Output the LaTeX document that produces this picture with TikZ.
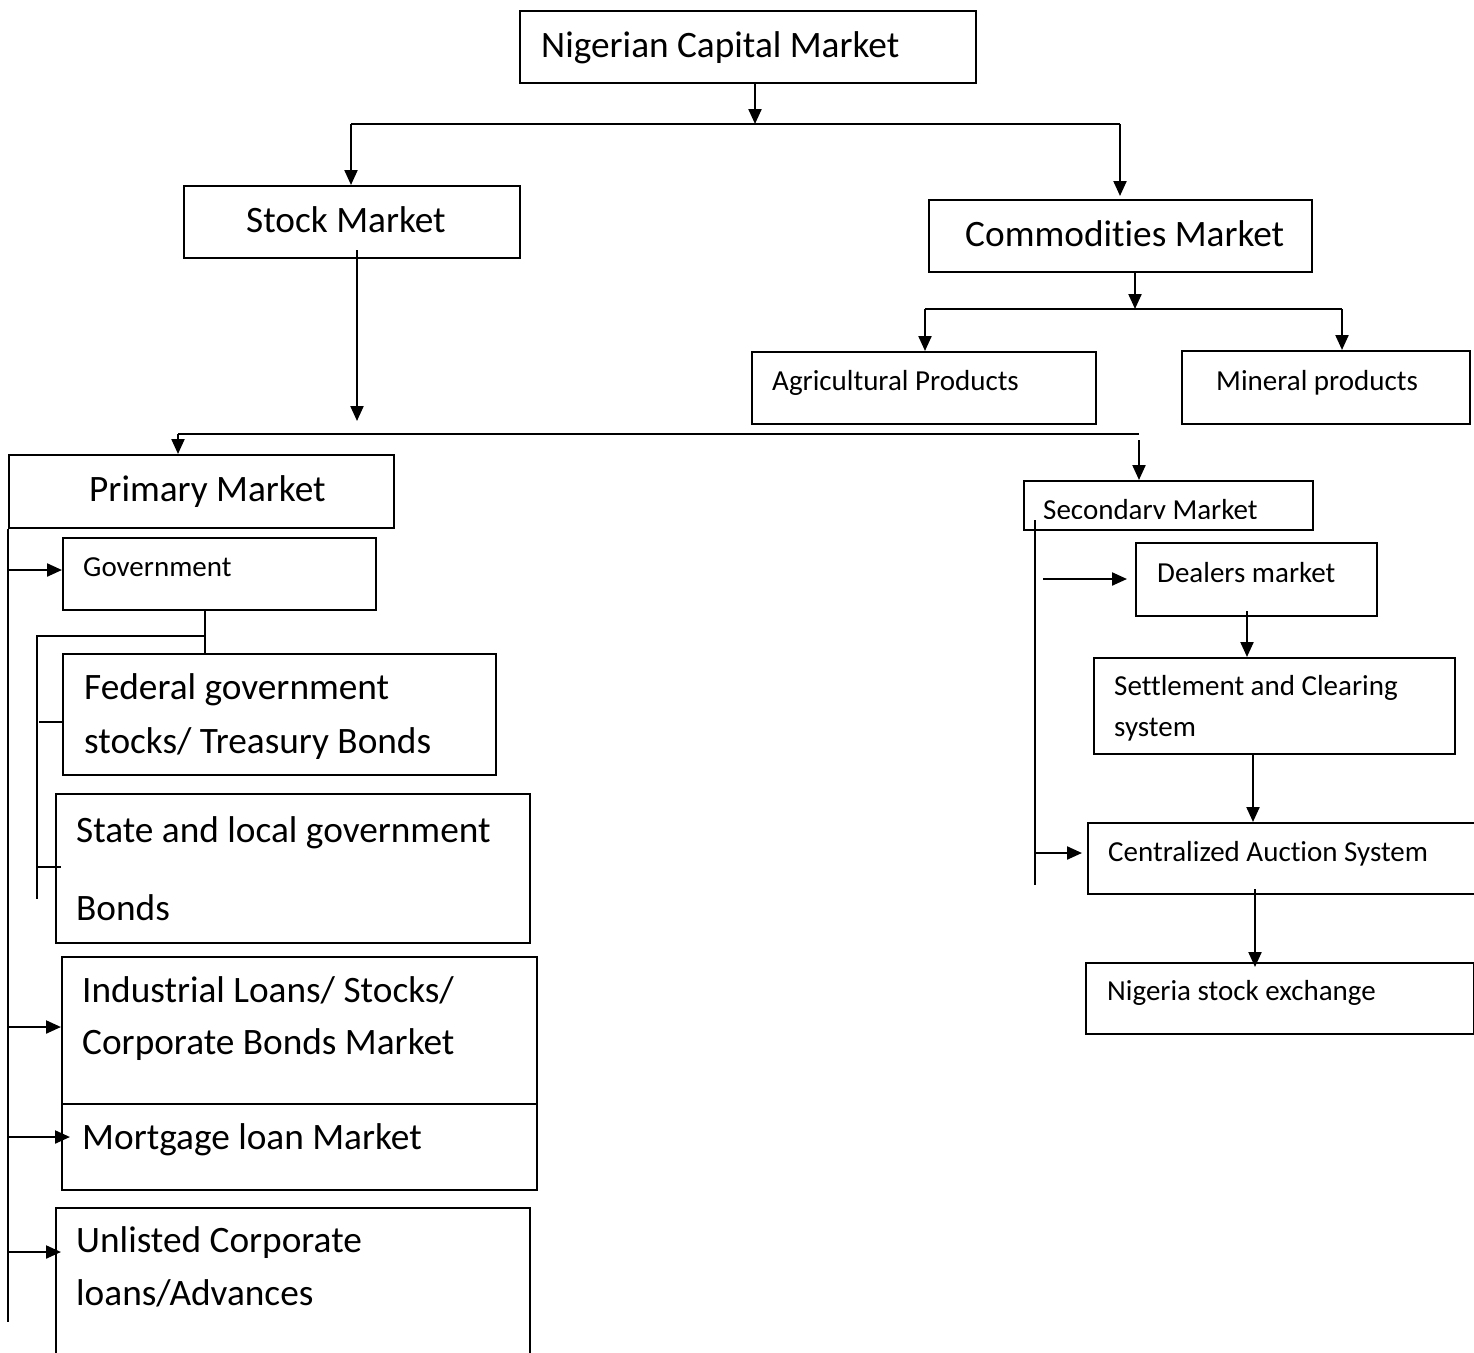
\documentclass[tikz,border=0pt]{standalone}
\usepackage{fontspec}
\setmainfont{Carlito}[Ligatures=NoCommon]
\usetikzlibrary{arrows.meta}
\newcommand\bigf{\fontsize{37.3}{45}\selectfont}
\newcommand\smallf{\fontsize{29}{35}\selectfont}
\newcommand\twolines[3]{\vtop{\baselineskip=#3\lineskiplimit=-100pt\hbox{#1}\hbox{#2}}}
\begin{document}
\begin{tikzpicture}[x=1pt,y=-1pt,
  box/.style={draw, line width=2pt, inner sep=0pt, anchor=north west},
  lbl/.style={anchor=base west, inner sep=0pt},
  conn/.style={line width=2.2pt},
  arr/.style={line width=2.2pt, -{Triangle[length=15pt,width=13pt]}}]
\useasboundingbox (0,0) rectangle (1474,1352);
\fill[white] (0,0) rectangle (1474,1352);
\clip (0,0) rectangle (1474,1352);
% boxes
\node[box, minimum width=456pt, minimum height=72pt] (ncm) at (519,10) {};
\node[box, minimum width=336pt, minimum height=72pt] (stock) at (183,185) {};
\node[box, minimum width=383pt, minimum height=72pt] (comm) at (928,199) {};
\node[box, minimum width=344pt, minimum height=72pt] (agri) at (751,351) {};
\node[box, minimum width=288pt, minimum height=73pt] (mineral) at (1181,350) {};
\node[box, minimum width=385pt, minimum height=73pt] (primary) at (8,454) {};
\node[box, minimum width=313pt, minimum height=72pt] (gov) at (62,537) {};
\node[box, minimum width=433pt, minimum height=121pt] (fed) at (62,653) {};
\node[box, minimum width=474pt, minimum height=149pt] (state) at (55,793) {};
\node[box, minimum width=475pt, minimum height=147pt] (ind) at (61,956) {};
\node[box, minimum width=475pt, minimum height=86pt] (mort) at (61,1103) {};
\node[box, minimum width=474pt, minimum height=170pt] (unl) at (55,1207) {};
\node[box, minimum width=289pt, minimum height=49pt] (sec) at (1023,480) {};
\node[box, minimum width=241pt, minimum height=73pt] (deal) at (1135,542) {};
\node[box, minimum width=361pt, minimum height=96pt] (settle) at (1093,657) {};
\node[box, minimum width=393pt, minimum height=71pt] (central) at (1087,822) {};
\node[box, minimum width=388pt, minimum height=71pt] (nse) at (1085,962) {};
% texts
\node[lbl, font=\bigf] (ncmt) at (541,57) {Nigerian Capital Market};
\node[lbl, font=\bigf] (stockt) at (246,232) {Stock Market};
\node[lbl, font=\bigf] (commt) at (965,246) {Commodities Market};
\node[lbl, font=\smallf] (agrit) at (772,390) {Agricultural Products};
\node[lbl, font=\smallf] (mineralt) at (1216,390) {Mineral products};
\node[lbl, font=\bigf] (primaryt) at (89,501) {Primary Market};
\node[lbl, font=\smallf] (govt) at (83,576) {Government};
\node[lbl, font=\bigf] (fedt) at (84,699) {\twolines{Federal government}{stocks/ Treasury Bonds}{54pt}};
\node[lbl, font=\bigf] (statet) at (76,842) {\twolines{State and local government}{Bonds}{78pt}};
\node[lbl, font=\bigf] (indt) at (82,1002) {\twolines{Industrial Loans/ Stocks/}{Corporate Bonds Market}{52pt}};
\node[lbl, font=\bigf] (mortt) at (82,1149) {Mortgage loan Market};
\node[lbl, font=\bigf] (unlt) at (76,1252) {\twolines{Unlisted Corporate}{loans/Advances}{53pt}};
\begin{scope}
\clip (1023,480) rectangle (1312,518.5);
\node[lbl, font=\smallf] (sect) at (1043,519) {Secondary Market};
\end{scope}
\node[lbl, font=\smallf] (dealt) at (1157,582) {Dealers market};
\node[lbl, font=\smallf] (settlet) at (1114,695) {\twolines{Settlement and Clearing}{system}{41pt}};
\node[lbl, font=\smallf] (centralt) at (1108,861) {Centralized Auction System};
\node[lbl, font=\smallf] (nset) at (1107,1000) {Nigeria stock exchange};
% junction coordinates
\coordinate (j1) at (755,124);
\coordinate (b1l) at (351,124);
\coordinate (b1r) at (1120,124);
\coordinate (j2) at (1135,309);
\coordinate (b2l) at (925,309);
\coordinate (b2r) at (1342,309);
\coordinate (s1) at (357,421);
\coordinate (b3l) at (178,434);
\coordinate (b3r) at (1139,434);
\coordinate (s2) at (1139,440);
\coordinate (lsp) at (8,1322);
\coordinate (g1) at (205,636);
\coordinate (g2) at (37,636);
\coordinate (g3) at (37,899);
\coordinate (t1) at (39,722);
\coordinate (t2) at (37,867);
\coordinate (t2e) at (61,867);
\coordinate (rs1) at (1035,520);
\coordinate (rs2) at (1035,885);
\coordinate (d1) at (1043,579);
\coordinate (c1) at (1035,853);
\coordinate (pa) at (8,570);
\coordinate (pb) at (8,1027);
\coordinate (pc) at (8,1137);
\coordinate (pd) at (8,1252);
% connectors
\draw[arr] (ncm.south -| j1) -- (j1);
\draw[conn] (b1l) -- (b1r);
\draw[arr] (b1l) -- (b1l |- stock.north);
\draw[arr] (b1r) -- ([yshift=3pt]b1r |- comm.north);
\draw[arr] (comm.south -| j2) -- (j2);
\draw[conn] (b2l) -- (b2r);
\draw[arr] (b2l) -- (b2l |- agri.north);
\draw[arr] (b2r) -- (b2r |- mineral.north);
\draw[arr] ([yshift=9pt]stock.south -| s1) -- (s1);
\draw[conn] (b3l) -- (b3r);
\draw[arr] (b3l) -- (b3l |- primary.north);
\draw[arr] (s2) -- (s2 |- sec.north);
% primary side
\draw[conn] (primary.south west) -- (lsp);
\draw[arr] (pa) -- (pa -| gov.west);
\draw[arr] (pb) -- (pb -| ind.west);
\draw[arr] (pc) -- ([xshift=9pt]pc -| mort.west);
\draw[arr] (pd) -- (pd -| ind.west);
\draw[conn] (gov.south -| g1) -- (fed.north -| g1);
\draw[conn] (g1) -- (g2) -- (g3);
\draw[conn] (t1) -- (t1 -| fed.west);
\draw[conn] (t2) -- (t2e);
% secondary side
\draw[conn] (rs1) -- (rs2);
\draw[arr, shorten >=8pt] (d1) -- (d1 -| deal.west);
\draw[arr, shorten >=5pt] (c1) -- (c1 -| central.west);
\draw[arr] ([yshift=6pt]deal.south -| 1247,0) -- (settle.north -| 1247,0);
\draw[arr] ([yshift=2pt]settle.south -| 1253,0) -- (central.north -| 1253,0);
\draw[arr] ([yshift=6pt]central.south -| 1255,0) -- ([yshift=-5pt]nse.north -| 1255,0);
\end{tikzpicture}
\end{document}
